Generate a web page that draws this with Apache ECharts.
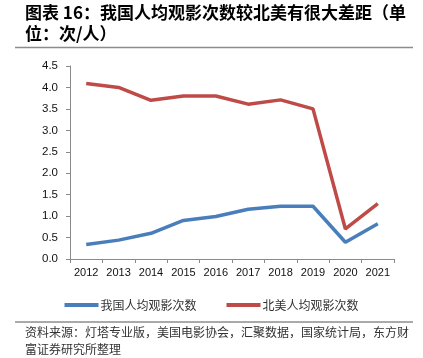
<!DOCTYPE html>
<html><head><meta charset="utf-8">
<script src="https://cdn.jsdelivr.net/npm/echarts@6/dist/echarts.min.js"></script>
<style>html,body{margin:0;padding:0;background:#fff}#c{width:423px;height:358px}</style>
</head><body><div id="c"></div>
<script>
const years = ['2012','2013','2014','2015','2016','2017','2018','2019','2020','2021'];
const chinaVisits = [0.34, 0.44, 0.60, 0.90, 0.99, 1.16, 1.23, 1.23, 0.39, 0.82];
const naVisits = [4.09, 4.00, 3.70, 3.80, 3.80, 3.61, 3.71, 3.50, 0.70, 1.29];
const seriesNames = ['我国人均观影次数', '北美人均观影次数'];
const titleLine1 = '图表 16：我国人均观影次数较北美有很大差距（单';
const titleLine2 = '位：次/人）';
const sourceLine1 = '资料来源：灯塔专业版，美国电影协会，汇聚数据，国家统计局，东方财';
const sourceLine2 = '富证券研究所整理';

const cjk = '"Noto Sans CJK SC", sans-serif';
const chart = echarts.init(document.getElementById('c'));
chart.setOption({
  animation: false,
  backgroundColor: '#fff',
  graphic: [
    {type:'text', left:25, top:4, style:{text:titleLine1, font:'bold 17px ' + cjk, fill:'#000'}},
    {type:'text', left:25, top:25, style:{text:titleLine2, font:'bold 17px ' + cjk, fill:'#000'}},
    {type:'line', shape:{x1:15,y1:47.5,x2:413,y2:47.5}, style:{stroke:'#8c8c8c', lineWidth:1.5}},
    {type:'line', shape:{x1:15,y1:322,x2:413,y2:322}, style:{stroke:'#555', lineWidth:1}},
    {type:'text', left:25, top:326, style:{text:sourceLine1, font:'12px ' + cjk, fill:'#333'}},
    {type:'text', left:25, top:343, style:{text:sourceLine2, font:'12px ' + cjk, fill:'#333'}}
  ],
  legend: {
    top: 294, left: 'center', itemGap: 30, itemWidth: 34, itemHeight: 4,
    icon: 'rect',
    textStyle: {fontFamily: cjk, fontSize: 12, color: '#333', padding:[0,0,0,-3]},
    data: seriesNames
  },
  grid: {left: 70, right: 29, top: 66, bottom: 99},
  xAxis: {
    type: 'category', data: years, boundaryGap: true,
    axisLine: {lineStyle: {color: '#8a8a8a'}},
    axisTick: {show: true, length: 4, lineStyle: {color: '#8a8a8a'}},
    axisLabel: {interval: 0, fontFamily: 'Liberation Sans, Arial', fontSize: 11, color: '#111', margin: 8}
  },
  yAxis: {
    type: 'value', min: 0, max: 4.5, interval: 0.5,
    axisLine: {show: true, lineStyle: {color: '#8a8a8a'}},
    axisTick: {show: true, length: 4, lineStyle: {color: '#8a8a8a'}},
    splitLine: {show: false},
    axisLabel: {fontFamily: 'Liberation Sans, Arial', fontSize: 11.5, color: '#111', margin: 12,
      formatter: v => v.toFixed(1)}
  },
  series: [
    {name: seriesNames[0], type: 'line', data: chinaVisits, symbol: 'none',
     lineStyle: {width: 3.5, color: '#4A7EBB'}, itemStyle: {color: '#4A7EBB'}},
    {name: seriesNames[1], type: 'line', data: naVisits, symbol: 'none',
     lineStyle: {width: 3.5, color: '#BE4B48'}, itemStyle: {color: '#BE4B48'}}
  ]
});
</script></body></html>
